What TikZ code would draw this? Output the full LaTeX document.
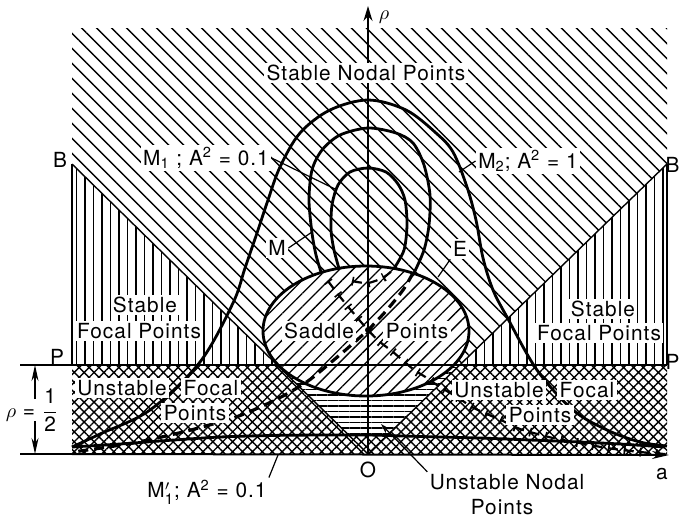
\documentclass[tikz,border=0pt]{standalone}
\usepackage{fontspec}
\setmainfont[LetterSpace=5]{TeX Gyre Heros}
\usetikzlibrary{patterns.meta,arrows.meta}
\begin{document}
\begin{tikzpicture}[x=0.5pt,y=-0.5pt,
  lbl/.style={font=\fontsize{10.4}{12}\selectfont, fill=white, inner sep=1.2pt},
  plain/.style={font=\fontsize{10.4}{12}\selectfont, inner sep=1pt},
  thinline/.style={line width=0.7pt},
  curve/.style={line width=1.4pt, line join=round},
  leader/.style={line width=0.6pt},
  thickdash/.style={line width=1.6pt, dash pattern=on 5pt off 3pt},
  tickdash/.style={line width=1.1pt, dash pattern=on 5pt off 3pt,
    postaction={draw, line width=4.4pt, dash pattern=on 0.8pt off 7.2pt}},
  nodal/.style={pattern={Lines[angle=-45,distance=5.3pt,line width=0.7pt]}},
  focal/.style={pattern={Lines[angle=90,distance=4.25pt,line width=0.65pt]}},
  cross/.style={pattern={Hatch[angle=45,distance=3.5pt,line width=0.7pt]}},
  horiz/.style={pattern={Lines[angle=0,distance=2.75pt,line width=0.6pt]}},
  saddle/.style={pattern={Lines[angle=45,distance=4.7pt,line width=0.65pt]}}]
\useasboundingbox (0,0) rectangle (680,516);
\fill[white] (0,0) rectangle (680,516);
% key points
\coordinate (BL) at (72,164); \coordinate (BR) at (667,164);
\coordinate (O) at (368,454);
\coordinate (PL) at (72,365); \coordinate (PR) at (667,365);
\coordinate (VL) at (277.2,365); \coordinate (VR) at (459.8,365);
\coordinate (TL) at (72,28); \coordinate (TR) at (667,28);
\coordinate (AL) at (72,454); \coordinate (AR) at (667,454);
% regions
\path[nodal] (TL) -- (TR) -- (BR) -- (VR) -- (VL) -- (BL) -- cycle;
\path[focal] (BL) -- (VL) -- (PL) -- cycle;
\path[focal] (BR) -- (VR) -- (PR) -- cycle;
\path[cross] (PL) rectangle (AR);
\begin{scope}
  \clip (VL) -- (VR) -- (O) -- cycle;
  \path[preaction={fill=white}, horiz] plot[smooth] coordinates {(72,447) (120,444) (160,441) (220,437) (270,435.5) (320,435) (368,435) (420,436.5) (480,438) (530,440) (580,442) (620,444) (665,447)} -- (667,300) -- (72,300) -- cycle;
\end{scope}
\path[preaction={fill=white}, saddle] (366,331) ellipse [x radius=103, y radius=65];
% boundary lines
\draw[thinline] (BL) -- (O) -- (BR);
\draw[thinline] (BL) -- (PL);
\draw[thinline] (BR) -- (PR);
\draw[thinline] (PL) -- (PR);
% dimension
\coordinate (dl1) at (20,365); \coordinate (dl2) at (20,454);
\draw[leader] (dl1) -- (PL);
\draw[leader] (dl2) -- (AL);
\coordinate (dtop) at (35,365); \coordinate (dbot) at (35,454);
\coordinate (dm1) at (35,399); \coordinate (dm2) at (35,421);
\draw[leader,-{Stealth[length=8pt,width=3.5pt]}] (dm1) -- (dtop);
\draw[leader,-{Stealth[length=8pt,width=3.5pt]}] (dm2) -- (dbot);
% axes
\coordinate (rtip) at (368,6);
\draw[line width=0.8pt,-{Stealth[length=7.5pt,width=4.5pt]}] (O) -- (rtip);
\coordinate (atip) at (669,455);
\draw[line width=1pt,-{Stealth[length=8.5pt,width=4pt]}] (AL) -- (atip);
% curves
\draw[curve] plot[smooth, tension=0.55] coordinates {(72,447) (100,434) (150,410) (200,362) (233,303) (245,268) (257,233) (268,200) (280,167) (300,133) (330,110) (368,100) (406,110) (436,133) (453,152) (467,187) (476,220) (483,258) (493,290) (507,317) (537,370) (573,410) (607,430) (640,442) (667,446)};
\draw[curve] plot[smooth] coordinates {(321,272) (316,255) (312,233) (309,200) (312,170) (322,150) (340,135) (368,128) (396,133) (413,143) (424,165) (430,195) (429,225) (424,250) (414,273)};
\draw[curve] plot[smooth] coordinates {(339,268.5) (334,250) (331,230) (332,205) (338,185) (350,172) (368,168) (386,172) (398,184) (405,200) (407,225) (404,250) (394,268.5)};
\draw[curve] (366,331) ellipse [x radius=103, y radius=65];
\draw[curve] plot[smooth] coordinates {(72,447) (120,444) (160,441) (220,437) (270,435.5) (320,435) (368,435) (420,436.5) (480,438) (530,440) (580,442) (620,444) (665,447)};
% dashed curves
\draw[thickdash] plot[smooth] coordinates {(413,273) (403,290) (386,311) (368,330) (349,347) (329,364) (308,381) (283,396) (258,408) (233,418) (187,431) (133,443) (73,452)};
\draw[tickdash] plot[smooth] coordinates {(328,281) (337,293) (350,309) (368,330) (380,342) (393,352) (413,369) (427,378) (440,387) (457,397) (472,407) (487,414) (503,421) (520,429) (553,438) (580,443) (607,448) (640,452) (665,454)};
\draw[tickdash] plot[smooth] coordinates {(352,281) (368,283) (384,277) (395,268)};
\fill (368,330) circle [radius=3];
% labels
\node[lbl] (snp) at (366,73) {Stable Nodal Points};
\node[lbl] (m1) at (206,158) {M\textsubscript{1} ; A\textsuperscript{2} = 0.1};
\node[lbl] (mm) at (277,248) {M};
\node[lbl] (m2) at (528,161) {M\textsubscript{2}; A\textsuperscript{2} = 1};
\node[lbl] (E) at (460,249) {E};
\node[plain] (Bl) at (60,160) {B};
\node[plain, anchor=east, inner sep=0pt] (Br) at (680,165) {B};
\node[lbl] (sfl1) at (145,305) {Stable};
\node[lbl] (sfl2) at (139,331) {Focal Points};
\node[lbl] (sfr1) at (603,309) {Stable};
\node[lbl] (sfr2) at (599,333) {Focal Points};
\node[lbl] (sad1) at (319,331) {Saddle};
\node[lbl] (sad2) at (417,331) {Points};
\node[plain] (Pl) at (57,357) {P};
\node[plain, anchor=east, inner sep=0pt] (Pr) at (680,362) {P};
\node[lbl] (ufl1) at (122,388) {Unstable};
\node[lbl] (ufl2) at (211,388) {Focal};
\node[lbl] (ufl3) at (195,413) {Points};
\node[lbl] (ufr1) at (499,390) {Unstable};
\node[lbl] (ufr2) at (587,390) {Focal};
\node[lbl] (ufr3) at (540,415) {Points};
\node[plain] (un1) at (507,482) {Unstable Nodal};
\node[plain] (un2) at (502,507) {Points};
\node[plain] (Olab) at (368,470) {O};
\node[plain] (alab) at (662,474) {a};
\node[plain] (m1p) at (207,492) {M$^{\prime}_{\mbox{\fontsize{7.5}{8}\selectfont 1}}$; A\textsuperscript{2} = 0.1};
\node[plain] (rho) at (384,17) {$\rho$};
\node[plain] (half) at (32,410) {$\rho$ = $\displaystyle\frac{\mbox{1}}{\mbox{2}}$};
% leaders
\coordinate (m1end) at (335,189);
\draw[leader] (m1.east) -- (m1end);
\coordinate (mend) at (312,232);
\draw[leader] (mm.east) -- (mend);
\coordinate (m2end) at (459,172);
\draw[leader] (m2.west) -- (m2end);
\coordinate (Eend) at (438,277);
\draw[leader] (E.south west) -- (Eend);
\coordinate (unend) at (381,424);
\draw[leader,-{Stealth[length=5pt,width=3pt]}] (un1.north west) -- (unend);
\coordinate (m1pend) at (278,455);
\draw[leader] (m1p.north east) -- (m1pend);
\end{tikzpicture}
\end{document}
